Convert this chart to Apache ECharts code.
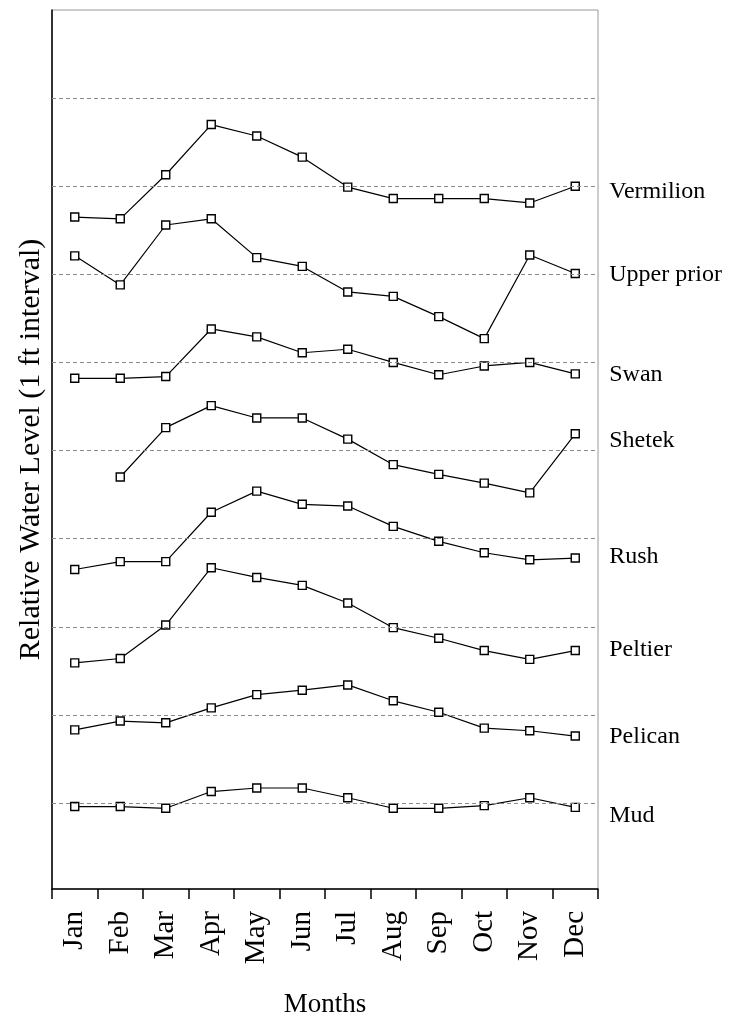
<!DOCTYPE html>
<html>
<head>
<meta charset="utf-8">
<script src="https://cdn.jsdelivr.net/npm/echarts@6/dist/echarts.min.js"></script>
<style>
html,body{margin:0;padding:0;background:#fff;}
#chart{width:738px;height:1023px;}
</style>
</head>
<body>
<div id="chart"></div>
<script>
// ---- data ----
var months = ['Jan','Feb','Mar','Apr','May','Jun','Jul','Aug','Sep','Oct','Nov','Dec'];
var lakeNames = ['Vermilion','Upper prior','Swan','Shetek','Rush','Peltier','Pelican','Mud'];
var vermilion  = [7.65, 7.63, 8.13, 8.70, 8.57, 8.33, 7.99, 7.86, 7.86, 7.86, 7.81, 8.00];
var upperPrior = [7.21, 6.88, 7.56, 7.63, 7.19, 7.09, 6.80, 6.75, 6.52, 6.27, 7.22, 7.01];
var swan       = [5.82, 5.82, 5.84, 6.38, 6.29, 6.11, 6.15, 6.00, 5.86, 5.96, 6.00, 5.87];
var shetek     = [null, 4.70, 5.26, 5.51, 5.37, 5.37, 5.13, 4.84, 4.73, 4.63, 4.52, 5.19];
var rush       = [3.65, 3.74, 3.74, 4.30, 4.54, 4.39, 4.37, 4.14, 3.97, 3.84, 3.76, 3.78];
var peltier    = [2.59, 2.64, 3.02, 3.67, 3.56, 3.47, 3.27, 2.99, 2.87, 2.73, 2.63, 2.73];
var pelican    = [1.83, 1.93, 1.91, 2.08, 2.23, 2.28, 2.34, 2.16, 2.03, 1.85, 1.82, 1.76];
var mud        = [0.96, 0.96, 0.94, 1.13, 1.17, 1.17, 1.06, 0.94, 0.94, 0.97, 1.06, 0.95];
var gridLevels = [1, 2, 3, 4, 5, 6, 7, 8, 9];
var yMin = 0.024, yMax = 10;

// ---- build ----
var lakeData = [vermilion, upperPrior, swan, shetek, rush, peltier, pelican, mud];
var labelShift = {'Vermilion':5,'Upper prior':1,'Swan':1,'Shetek':7,'Rush':-1,'Peltier':-1,'Pelican':1,'Mud':8};
var serif = '"Liberation Serif","DejaVu Serif",serif';

var series = lakeNames.map(function(name, i){
  return {
    name: name,
    type: 'line',
    data: lakeData[i],
    connectNulls: false,
    symbol: 'rect',
    symbolSize: 8,
    showAllSymbol: true,
    z: 3,
    itemStyle: {color: '#fff', borderColor: '#000', borderWidth: 1.4},
    lineStyle: {color: '#000', width: 1.2},
    emphasis: {disabled: true},
    endLabel: {
      show: true,
      formatter: '{a}',
      distance: 34,
      offset: [0, labelShift[name]],
      color: '#000',
      fontFamily: serif,
      fontSize: 24
    }
  };
});
series.push({
  type: 'line',
  data: [],
  silent: true,
  markLine: {
    silent: true,
    symbol: ['none','none'],
    label: {show: false},
    lineStyle: {color: '#8a8a8a', type: [4,3], width: 1},
    data: gridLevels.map(function(v){ return {yAxis: v}; })
  }
});

var chart = echarts.init(document.getElementById('chart'), null, {renderer: 'canvas'});
chart.setOption({
  animation: false,
  backgroundColor: '#fff',
  grid: {left: 52, right: 140, top: 10, bottom: 133, show: true, borderColor: '#999', borderWidth: 1},
  xAxis: {
    type: 'category',
    data: months,
    boundaryGap: true,
    axisLine: {lineStyle: {color: '#000', width: 1.5}},
    axisTick: {show: true, length: 10, lineStyle: {color: '#000', width: 1.5}},
    axisLabel: {rotate: 90, margin: 22, color: '#000', fontFamily: serif, fontSize: 29, interval: 0},
    name: 'Months',
    nameLocation: 'middle',
    nameGap: 102,
    nameTextStyle: {color: '#000', fontFamily: serif, fontSize: 27}
  },
  yAxis: {
    type: 'value',
    min: yMin,
    max: yMax,
    axisLine: {show: true, lineStyle: {color: '#000', width: 1.5}},
    axisTick: {show: false},
    axisLabel: {show: false},
    splitLine: {show: false},
    name: 'Relative Water Level (1 ft interval)',
    nameLocation: 'middle',
    nameRotate: 90,
    nameGap: 6,
    nameTextStyle: {color: '#000', fontFamily: serif, fontSize: 30}
  },
  series: series
});
</script>
</body>
</html>
